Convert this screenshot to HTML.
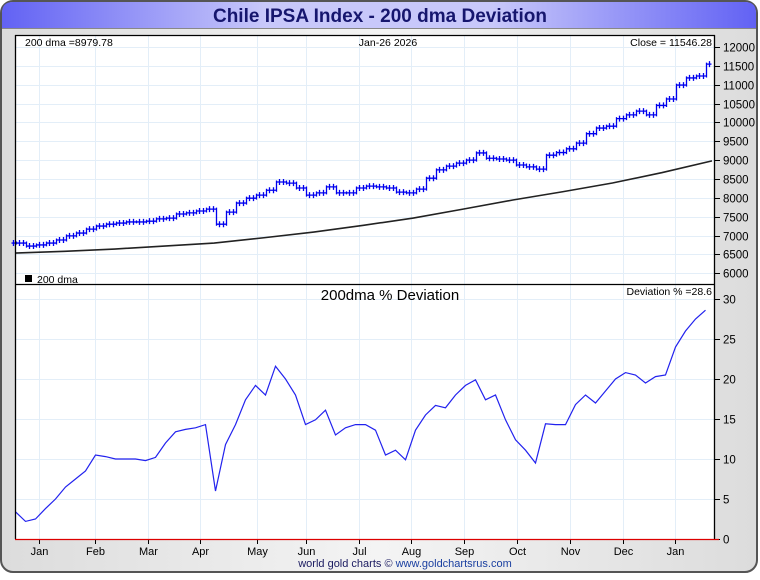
<!DOCTYPE html>
<html><head><meta charset="utf-8">
<style>
html,body{margin:0;padding:0;background:#fff;}
body{width:760px;height:575px;overflow:hidden;font-family:"Liberation Sans",sans-serif;}
</style></head>
<body>
<svg id="chart" width="760" height="575" xmlns="http://www.w3.org/2000/svg">
<defs>
<linearGradient id="tg" x1="0" x2="1" y1="0" y2="0">
<stop offset="0" stop-color="#6262f4"/><stop offset="0.35" stop-color="#c8c8fa"/><stop offset="0.65" stop-color="#c8c8fa"/><stop offset="1" stop-color="#6262f4"/>
</linearGradient>
<linearGradient id="bg" x1="0" x2="1" y1="0" y2="0">
<stop offset="0" stop-color="#dcdcdc"/><stop offset="0.5" stop-color="#f4f4f4"/><stop offset="1" stop-color="#dcdcdc"/>
</linearGradient>
</defs>
<rect x="1" y="1" width="756" height="571" rx="12" fill="url(#bg)" stroke="#555" stroke-width="2"/>
<path d="M2,28 L2,13 Q2,2 13,2 L745,2 Q756,2 756,13 L756,28 Z" fill="url(#tg)"/>
<line x1="2" y1="28.5" x2="756" y2="28.5" stroke="#888"/>
<text x="380" y="22" text-anchor="middle" font-size="19" font-weight="bold" fill="#16166e">Chile IPSA Index - 200 dma Deviation</text>
<rect x="15" y="35" width="700" height="504" fill="#fff"/>
<g id="grid"></g>
<g id="marks"></g>
<g id="axes"></g>
<text x="405" y="567" text-anchor="middle" font-size="11"><tspan fill="#1a1a60">world gold charts © </tspan><tspan fill="#1a3fa0">www.goldchartsrus.com</tspan></text>
</svg>
<script>
const months = ["Jan","Feb","Mar","Apr","May","Jun","Jul","Aug","Sep","Oct","Nov","Dec","Jan"];
const monthPos = [0.35,1.15,1.9,2.65,3.45,4.15,4.9,5.65,6.4,7.15,7.9,8.65,9.4];
const priceTicks = [6000,6500,7000,7500,8000,8500,9000,9500,10000,10500,11000,11500,12000];
const devTicks = [0,5,10,15,20,25,30];
const closes = [6800,6720,6750,6800,6880,6990,7065,7170,7250,7300,7330,7360,7360,7380,7440,7460,7570,7600,7650,7700,7300,7620,7860,7990,8070,8200,8420,8390,8260,8070,8130,8290,8130,8130,8260,8310,8290,8260,8150,8130,8230,8520,8740,8840,8920,9000,9190,9050,9030,9000,8870,8820,8760,9130,9200,9300,9450,9700,9850,9900,10100,10200,10300,10200,10450,10620,10990,11180,11230,11546];
const dma = [6535,6580,6641,6720,6800,6940,7092,7270,7463,7700,7941,8160,8392,8670,8980];
const deviation = [3.4,2.2,2.5,3.8,5,6.5,7.5,8.5,10.5,10.3,10,10,10,9.8,10.2,12,13.4,13.7,13.9,14.3,6,11.8,14.3,17.4,19.2,18,21.6,20,18,14.3,14.9,16.1,13,13.9,14.3,14.3,13.6,10.5,11.1,9.9,13.6,15.5,16.7,16.4,18,19.2,19.9,17.4,18,14.9,12.4,11.1,9.5,14.4,14.3,14.3,16.8,18,17,18.5,20,20.8,20.5,19.5,20.3,20.5,24,26,27.5,28.6];

const NS="http://www.w3.org/2000/svg";
const X0=15,X1=715;
const px=i=>15+i*10+0.5;
const pm=m=>X0+m*(X1-X0)/9.95 - 1;
const yp=v=>47+(12000-v)*37.7/1000;
const yd=v=>539-v*8;
function mk(tag,attrs,parent,txt){const e=document.createElementNS(NS,tag);for(const k in attrs)e.setAttribute(k,attrs[k]);if(txt!==undefined)e.textContent=txt;document.getElementById(parent).appendChild(e);return e;}

priceTicks.forEach(v=>{const y=Math.round(yp(v))+0.5;
 const g=mk('line',{x1:X0,x2:X1,y1:y,y2:y,stroke:'#e3eef8'},'grid');
 
 
 const t=mk('line',{x1:X1,x2:X1+5,y1:y,y2:y,stroke:'#000'},'axes');
 
 
 const l=mk('text',{x:X1+8,y:y+4,'font-size':11.5,fill:'#000'},'axes',String(v));
 
 
});
devTicks.forEach(v=>{const y=Math.round(yd(v))+0.5;
 const g=mk('line',{x1:X0,x2:X1,y1:y,y2:y,stroke:'#e3eef8'},'grid');
 
 
 const t=mk('line',{x1:X1,x2:X1+5,y1:y,y2:y,stroke:'#000'},'axes');
 
 
 const l=mk('text',{x:X1+8,y:y+4,'font-size':11.5,fill:'#000'},'axes',String(v));
 
 
});
months.forEach((m,i)=>{const x=Math.round(pm(monthPos[i]))+0.5;
 const g=mk('line',{x1:x,x2:x,y1:35,y2:539,stroke:'#e3eef8'},'grid');
 
 
 const t=mk('line',{x1:x,x2:x,y1:539,y2:544,stroke:'#000'},'axes');
 
 
 const l=mk('text',{x:x,y:555,'font-size':11,'text-anchor':'middle',fill:'#000'},'axes',m);
 
 
});

closes.forEach((c,i)=>{const o=i>0?closes[i-1]:c;const x=Math.round(px(i))+0.5;
 const hi=Math.max(o,c)+40,lo=Math.min(o,c)-40;
 const b=mk('path',{d:`M${x},${yp(hi)}V${yp(lo)}M${x-5},${yp(o)}H${x}M${x},${yp(c)}H${x+5}M${x+3},${yp(c)-3}V${yp(c)+3}M${x-3},${yp(o)-3}V${yp(o)+3}`,stroke:'#0000ee','stroke-width':1.3,fill:'none'},'marks');
 
 
});
const dn=dma.length-1;
const dl=mk('polyline',{points:dma.map((v,i)=>`${X0+i*(712-X0)/dn},${yp(v)}`).join(' '),fill:'none',stroke:'#222','stroke-width':1.6},'marks');


const dv=mk('polyline',{points:deviation.map((v,i)=>`${px(i)},${yd(v)}`).join(' '),fill:'none',stroke:'#2222ee','stroke-width':1.2},'marks');



[['M15,35.5H715','top-border','#000'],['M15.5,35V539','left-axis','#000'],['M714.5,35V539','right-axis','#000'],['M15,284.5H715','panel-divider','#000'],['M15,539.5H719','x-axis-baseline','#d00']].forEach(a=>{
 const p=mk('path',{d:a[0],stroke:a[2],'stroke-width':1.3,fill:'none'},'axes');
 
 
});
const txts=[[25,46,'start','200 dma =8979.78','dma-value-label',10.5],[388,46,'middle','Jan-26  2026','date-label',10.5],[712,46,'end','Close = 11546.28','close-value-label',10.5],[37,283,'start','200 dma','dma-legend-label',10.5],[390,300,'middle','200dma  %  Deviation','deviation-panel-title',15],[712,295,'end','Deviation % =28.6','deviation-value-label',10.5]];
txts.forEach(t=>{const e=mk('text',{x:t[0],y:t[1],'text-anchor':t[2],'font-size':t[5],fill:'#000'},'axes',t[3]);
 
 
});
const sw=mk('rect',{x:25,y:275,width:7,height:7,fill:'#000'},'axes');


</script>
</body></html>
